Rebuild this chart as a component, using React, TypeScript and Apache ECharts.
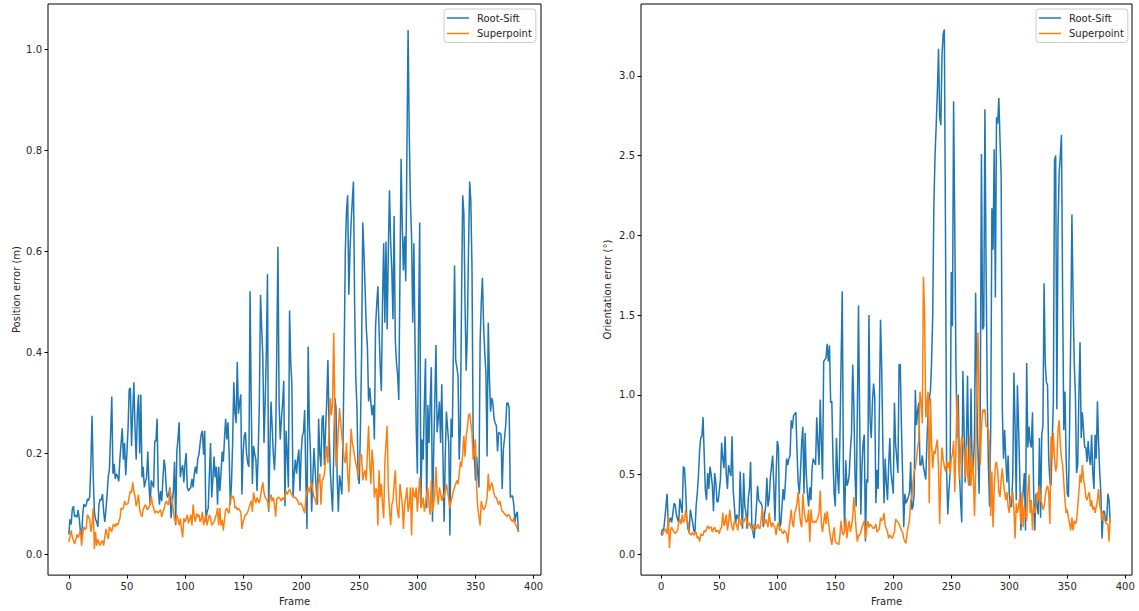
import React, { useEffect, useRef } from "react";
import * as echarts from "echarts";

// Left plot: position error (m) per frame
const RS_POS = [
  0.04,0.07,0.06,0.09,0.096,0.075,0.078,0.074,0.088,0.072,
  0.045,0.035,0.08,0.1,0.095,0.098,0.11,0.107,0.115,0.18,
  0.275,0.16,0.085,0.07,0.065,0.055,0.1,0.11,0.108,0.12,
  0.085,0.065,0.09,0.12,0.155,0.17,0.24,0.313,0.16,0.18,
  0.15,0.16,0.155,0.145,0.19,0.22,0.25,0.188,0.221,0.157,
  0.2,0.25,0.327,0.33,0.215,0.28,0.341,0.25,0.188,0.28,
  0.317,0.2,0.317,0.153,0.174,0.133,0.145,0.153,0.204,0.14,
  0.099,0.147,0.14,0.133,0.225,0.225,0.269,0.13,0.099,0.126,
  0.106,0.15,0.188,0.17,0.126,0.113,0.12,0.133,0.072,0.1,
  0.126,0.184,0.058,0.204,0.23,0.262,0.153,0.17,0.177,0.143,
  0.18,0.201,0.133,0.126,0.13,0.133,0.15,0.133,0.16,0.174,
  0.16,0.19,0.198,0.22,0.238,0.245,0.198,0.245,0.065,0.085,
  0.092,0.16,0.221,0.113,0.15,0.194,0.153,0.174,0.099,0.174,
  0.126,0.16,0.204,0.184,0.23,0.269,0.228,0.262,0.2,0.099,
  0.14,0.22,0.341,0.28,0.26,0.381,0.279,0.3,0.317,0.119,
  0.2,0.235,0.242,0.2,0.181,0.174,0.521,0.3,0.14,0.215,
  0.2,0.188,0.126,0.2,0.3,0.514,0.45,0.391,0.221,0.3,
  0.4,0.555,0.085,0.2,0.303,0.255,0.2,0.167,0.221,0.4,
  0.609,0.3,0.228,0.269,0.3,0.344,0.096,0.245,0.2,0.133,
  0.483,0.38,0.337,0.113,0.16,0.188,0.16,0.19,0.208,0.126,
  0.2,0.235,0.242,0.286,0.15,0.051,0.412,0.262,0.2,0.085,
  0.15,0.211,0.167,0.13,0.099,0.269,0.2,0.174,0.269,0.276,
  0.177,0.25,0.303,0.385,0.25,0.167,0.126,0.085,0.2,0.31,
  0.29,0.15,0.085,0.157,0.14,0.119,0.221,0.4,0.6,0.68,
  0.711,0.514,0.6,0.657,0.7,0.738,0.494,0.35,0.29,0.153,
  0.14,0.25,0.398,0.657,0.6,0.527,0.45,0.412,0.303,0.33,
  0.3,0.276,0.296,0.228,0.45,0.494,0.531,0.45,0.371,0.324,
  0.5,0.616,0.459,0.619,0.446,0.6,0.721,0.62,0.562,0.466,
  0.67,0.425,0.38,0.357,0.306,0.55,0.783,0.65,0.562,0.63,
  0.541,0.8,1.038,0.834,0.7,0.63,0.459,0.616,0.412,0.25,
  0.16,0.45,0.657,0.099,0.228,0.188,0.3,0.388,0.092,0.296,
  0.221,0.3,0.371,0.065,0.2,0.303,0.415,0.242,0.27,0.303,
  0.221,0.337,0.2,0.065,0.194,0.283,0.25,0.221,0.038,0.269,
  0.232,0.4,0.572,0.385,0.37,0.354,0.188,0.249,0.5,0.711,
  0.677,0.5,0.364,0.439,0.6,0.738,0.7,0.568,0.235,0.2,
  0.147,0.194,0.16,0.133,0.419,0.5,0.548,0.453,0.4,0.357,
  0.194,0.459,0.35,0.283,0.31,0.3,0.269,0.26,0.255,0.204,
  0.242,0.24,0.238,0.13,0.208,0.23,0.255,0.3,0.3,0.29,
  0.113,0.116,0.116,0.099,0.065,0.08,0.085,0.045,
];

const SP_POS = [
  0.025,0.035,0.048,0.035,0.028,0.021,0.03,0.04,0.034,0.04,
  0.048,0.018,0.04,0.055,0.05,0.051,0.079,0.075,0.069,0.045,
  0.06,0.092,0.011,0.045,0.018,0.03,0.024,0.018,0.025,0.028,
  0.018,0.035,0.051,0.04,0.031,0.055,0.05,0.045,0.058,0.06,
  0.055,0.062,0.058,0.065,0.072,0.092,0.09,0.092,0.106,0.099,
  0.1,0.102,0.115,0.126,0.123,0.143,0.125,0.116,0.096,0.105,
  0.119,0.089,0.08,0.075,0.089,0.095,0.099,0.092,0.089,0.095,
  0.099,0.116,0.1,0.092,0.082,0.086,0.085,0.082,0.086,0.089,
  0.075,0.085,0.09,0.102,0.106,0.1,0.099,0.13,0.115,0.109,
  0.085,0.07,0.062,0.079,0.07,0.058,0.072,0.05,0.034,0.072,
  0.065,0.07,0.079,0.062,0.07,0.079,0.058,0.099,0.075,0.065,
  0.082,0.075,0.079,0.065,0.07,0.085,0.058,0.07,0.079,0.058,
  0.07,0.079,0.072,0.058,0.062,0.065,0.072,0.08,0.092,0.058,
  0.092,0.058,0.069,0.048,0.07,0.089,0.092,0.085,0.082,0.113,
  0.11,0.116,0.113,0.092,0.095,0.089,0.092,0.088,0.085,0.051,
  0.065,0.072,0.079,0.08,0.085,0.092,0.1,0.106,0.085,0.123,
  0.11,0.102,0.113,0.108,0.102,0.116,0.13,0.143,0.123,0.113,
  0.11,0.106,0.089,0.11,0.119,0.106,0.113,0.1,0.075,0.11,
  0.113,0.113,0.11,0.106,0.113,0.109,0.115,0.126,0.119,0.125,
  0.13,0.123,0.119,0.115,0.113,0.113,0.11,0.106,0.099,0.1,
  0.102,0.096,0.09,0.082,0.113,0.125,0.133,0.123,0.135,0.143,
  0.126,0.115,0.109,0.099,0.133,0.145,0.16,0.099,0.147,0.15,
  0.16,0.19,0.215,0.181,0.25,0.31,0.276,0.3,0.439,0.276,
  0.174,0.2,0.249,0.29,0.26,0.235,0.211,0.19,0.181,0.221,
  0.16,0.123,0.188,0.249,0.221,0.21,0.194,0.181,0.17,0.153,
  0.194,0.196,0.198,0.147,0.16,0.167,0.147,0.2,0.255,0.181,
  0.14,0.208,0.181,0.113,0.13,0.13,0.058,0.167,0.113,0.14,
  0.1,0.072,0.181,0.22,0.255,0.133,0.09,0.058,0.099,0.106,
  0.14,0.167,0.106,0.085,0.072,0.14,0.12,0.099,0.051,0.1,
  0.113,0.133,0.085,0.1,0.133,0.038,0.133,0.12,0.113,0.133,
  0.085,0.12,0.153,0.092,0.1,0.113,0.085,0.1,0.119,0.133,
  0.1,0.079,0.147,0.085,0.1,0.119,0.174,0.12,0.099,0.133,
  0.12,0.106,0.119,0.113,0.125,0.14,0.126,0.11,0.092,0.106,
  0.115,0.126,0.133,0.14,0.147,0.14,0.16,0.184,0.174,0.2,
  0.235,0.194,0.235,0.25,0.276,0.279,0.26,0.242,0.188,0.2,
  0.228,0.133,0.092,0.075,0.058,0.106,0.095,0.089,0.092,0.1,
  0.113,0.16,0.126,0.135,0.143,0.133,0.12,0.113,0.113,0.105,
  0.099,0.106,0.095,0.085,0.085,0.08,0.079,0.075,0.078,0.079,
  0.072,0.068,0.065,0.072,0.062,0.058,0.052,0.045,
];

// Right plot: orientation error (deg) per frame
const RS_ORI = [
  0.12,0.16,0.15,0.22,0.3,0.38,0.19,0.21,0.23,0.2,
  0.26,0.32,0.31,0.25,0.22,0.2,0.35,0.3,0.26,0.55,
  0.54,0.4,0.22,0.16,0.14,0.28,0.24,0.2,0.15,0.14,
  0.3,0.38,0.49,0.65,0.73,0.74,0.86,0.62,0.4,0.34,
  0.51,0.41,0.55,0.5,0.43,0.27,0.51,0.45,0.33,0.33,
  0.4,0.47,0.7,0.6,0.54,0.74,0.5,0.41,0.56,0.52,
  0.49,0.74,0.4,0.3,0.19,0.25,0.23,0.21,0.52,0.3,
  0.16,0.51,0.3,0.26,0.16,0.35,0.41,0.58,0.19,0.14,
  0.1,0.19,0.3,0.43,0.34,0.33,0.32,0.3,0.17,0.25,
  0.3,0.48,0.3,0.35,0.48,0.55,0.62,0.43,0.21,0.5,
  0.71,0.67,0.17,0.19,0.3,0.41,0.34,0.45,0.6,0.56,
  0.6,0.62,0.84,0.79,0.87,0.88,0.89,0.65,0.45,0.38,
  0.52,0.7,0.8,0.38,0.76,0.5,0.38,0.3,0.42,0.34,
  0.54,0.6,0.58,0.56,0.86,0.7,0.56,0.97,0.7,0.47,
  1.21,1.22,1.23,1.32,1.21,1.31,0.95,0.96,0.6,0.38,
  0.3,0.73,0.5,0.38,0.73,1.2,1.65,0.52,0.15,0.59,
  0.43,0.45,0.5,0.65,0.76,1.19,0.93,0.5,0.3,0.88,
  1.56,0.86,0.25,0.55,0.7,0.75,0.08,0.47,0.45,1.5,
  0.84,0.73,0.95,1.07,0.99,0.32,0.53,0.41,0.9,1.47,
  1.17,0.69,0.32,0.6,0.45,0.34,0.56,0.73,0.51,0.45,
  0.38,0.95,0.69,0.6,0.51,1.19,1.19,0.8,0.51,0.17,
  0.38,0.32,0.34,0.36,0.39,0.58,0.28,0.3,0.38,1.03,
  0.81,0.9,0.95,0.56,0.56,0.62,0.55,0.51,0.47,0.7,
  0.89,0.98,1.02,1.2,1.5,2.19,2.5,2.69,2.9,3.17,
  2.74,2.69,3.13,3.26,3.29,2.04,0.51,0.25,0.4,0.51,
  1.77,1.43,2.84,2.04,1.2,0.73,1.0,0.51,0.34,0.2,
  1.15,0.8,0.45,0.67,1.12,0.6,0.43,1.04,0.51,0.56,
  0.73,1.64,1.0,0.65,0.38,0.95,2.51,1.41,1.43,2.79,
  1.82,1.0,0.56,0.3,0.8,2.17,1.91,2.54,1.61,2.74,
  2.7,2.86,2.6,2.37,0.91,0.6,0.78,0.6,0.45,0.62,
  0.38,0.3,0.3,0.49,1.14,0.8,0.34,1.06,0.8,0.51,
  0.15,0.3,0.4,0.51,0.15,1.2,0.67,0.8,0.7,0.67,
  0.89,0.4,0.15,0.38,0.3,0.25,0.73,0.23,0.75,0.8,
  1.7,1.2,1.08,1.06,0.6,0.45,0.43,0.7,0.95,2.47,
  2.5,0.91,2.04,2.39,2.5,2.63,1.61,0.78,1.02,0.6,
  0.38,0.36,0.8,1.39,2.13,1.61,1.2,1.0,0.51,0.56,
  1.0,1.33,0.73,0.89,0.78,0.67,0.67,0.58,0.71,0.6,
  0.56,0.75,0.51,0.41,0.75,0.6,0.96,0.7,0.51,0.38,
  0.1,0.27,0.27,0.21,0.21,0.38,0.34,0.2,
];

const SP_ORI = [
  0.12,0.12,0.14,0.16,0.15,0.13,0.24,0.04,0.15,0.17,
  0.15,0.14,0.13,0.14,0.15,0.2,0.22,0.19,0.25,0.2,
  0.21,0.28,0.22,0.2,0.13,0.13,0.12,0.14,0.12,0.13,
  0.14,0.1,0.11,0.08,0.13,0.12,0.12,0.15,0.14,0.16,
  0.18,0.16,0.17,0.17,0.14,0.16,0.17,0.14,0.15,0.15,
  0.13,0.16,0.17,0.26,0.18,0.2,0.25,0.15,0.2,0.28,
  0.21,0.17,0.15,0.21,0.2,0.18,0.15,0.24,0.2,0.18,
  0.21,0.2,0.22,0.24,0.19,0.18,0.2,0.17,0.16,0.15,
  0.19,0.17,0.16,0.19,0.17,0.16,0.21,0.29,0.22,0.19,
  0.22,0.2,0.17,0.26,0.2,0.17,0.2,0.18,0.17,0.12,
  0.18,0.2,0.15,0.16,0.14,0.13,0.15,0.14,0.13,0.07,
  0.15,0.21,0.28,0.2,0.17,0.26,0.28,0.32,0.39,0.28,
  0.2,0.17,0.38,0.28,0.23,0.2,0.21,0.28,0.08,0.28,
  0.21,0.2,0.21,0.2,0.21,0.23,0.26,0.4,0.19,0.14,
  0.2,0.26,0.19,0.27,0.21,0.15,0.1,0.06,0.12,0.17,
  0.08,0.07,0.07,0.06,0.12,0.21,0.14,0.12,0.15,0.23,
  0.1,0.17,0.21,0.14,0.18,0.23,0.36,0.26,0.15,0.08,
  0.12,0.12,0.14,0.17,0.19,0.21,0.1,0.15,0.21,0.17,
  0.19,0.18,0.17,0.16,0.17,0.19,0.14,0.15,0.16,0.23,
  0.21,0.22,0.26,0.18,0.16,0.14,0.1,0.12,0.11,0.1,
  0.12,0.14,0.22,0.21,0.2,0.19,0.17,0.15,0.14,0.1,
  0.08,0.07,0.14,0.18,0.22,0.34,0.36,0.45,0.52,0.54,
  0.6,0.67,0.71,1.02,0.96,0.82,1.74,1.5,0.86,0.95,
  1.02,0.32,0.98,0.7,0.54,0.65,0.63,0.68,0.72,0.54,
  0.19,0.52,0.67,0.6,0.55,0.52,0.58,0.54,0.58,0.5,
  0.6,0.63,0.71,0.39,0.67,1.0,0.7,0.47,0.65,0.74,
  0.7,0.65,0.48,0.68,0.5,0.43,0.75,0.43,0.62,0.5,
  0.24,0.52,1.06,1.39,0.96,0.56,0.78,0.91,0.89,0.91,
  0.8,0.8,0.78,0.67,0.24,0.52,0.17,0.4,0.56,0.58,
  0.52,0.39,0.36,0.47,0.54,0.45,0.39,0.34,0.39,0.3,
  0.26,0.34,0.37,0.39,0.28,0.1,0.32,0.26,0.3,0.36,
  0.19,0.39,0.17,0.3,0.25,0.21,0.39,0.5,0.26,0.34,
  0.15,0.3,0.26,0.3,0.39,0.34,0.43,0.34,0.32,0.28,
  0.3,0.36,0.41,0.43,0.39,0.19,0.74,0.6,0.76,0.6,
  0.52,0.56,0.78,0.84,0.69,0.6,0.56,0.45,0.34,0.26,
  0.28,0.23,0.19,0.15,0.23,0.15,0.21,0.19,0.21,0.3,
  0.39,0.5,0.45,0.56,0.47,0.43,0.36,0.34,0.37,0.39,
  0.3,0.34,0.28,0.3,0.26,0.3,0.34,0.41,0.3,0.28,
  0.21,0.26,0.23,0.2,0.19,0.19,0.08,0.23,
];

const X_TICKS = [0, 50, 100, 150, 200, 250, 300, 350, 400];
const POS_TICKS = [0, 0.2, 0.4, 0.6, 0.8, 1.0];
const ORI_TICKS = [0, 0.5, 1.0, 1.5, 2.0, 2.5, 3.0];
const SERIES_NAMES = ["Root-Sift", "Superpoint"];
const X_LABEL = "Frame";
const POS_LABEL = "Position error (m)";
const ORI_LABEL = "Orientation error (°)";

const BLUE = "#1f77b4";
const ORANGE = "#ff7f0e";
const FONT = "DejaVu Sans";
const TXT = "#262626";

const toPairs = (arr: number[]) => arr.map((v, i) => [i, v]);

function xAxisCfg(gridIndex: number, min: number, max: number) {
  return {
    type: "value",
    gridIndex,
    min,
    max,
    name: X_LABEL,
    nameLocation: "middle",
    nameGap: 20,
    nameTextStyle: { color: TXT, fontSize: 10, fontFamily: FONT },
    axisLine: { show: false, onZero: false },
    axisTick: { show: true, length: 3.5, customValues: X_TICKS, lineStyle: { color: "#000", width: 1 } },
    axisLabel: { customValues: X_TICKS, margin: 6, color: TXT, fontSize: 10, fontFamily: FONT },
    splitLine: { show: false },
  };
}

function yAxisCfg(gridIndex: number, min: number, max: number, ticks: number[], name: string, gap: number) {
  return {
    type: "value",
    gridIndex,
    min,
    max,
    name,
    nameLocation: "middle",
    nameRotate: 90,
    nameGap: gap,
    nameTextStyle: { color: TXT, fontSize: 10, fontFamily: FONT },
    axisLine: { show: false, onZero: false },
    axisTick: { show: true, length: 3.5, customValues: ticks, lineStyle: { color: "#000", width: 1 } },
    axisLabel: {
      customValues: ticks,
      margin: 6,
      color: TXT,
      fontSize: 10,
      fontFamily: FONT,
      formatter: (v: number) => v.toFixed(1),
    },
    splitLine: { show: false },
  };
}

function legendCfg(left: number) {
  return {
    left,
    top: 9,
    orient: "vertical",
    data: SERIES_NAMES,
    icon: "rect",
    itemWidth: 22,
    itemHeight: 1.5,
    itemGap: 3.5,
    selectedMode: false,
    padding: [3, 4, 3, 3],
    borderColor: "#cccccc",
    borderWidth: 1,
    borderRadius: 3,
    backgroundColor: "rgba(255,255,255,0.8)",
    textStyle: { color: TXT, fontSize: 10, fontFamily: FONT, lineHeight: 12, padding: [0, 0, 0, 3] },
  };
}

function lineSeries(name: string, data: number[], color: string, idx: number) {
  return {
    type: "line",
    name,
    xAxisIndex: idx,
    yAxisIndex: idx,
    data: toPairs(data),
    showSymbol: false,
    symbol: "none",
    lineStyle: { width: 1.5, color },
    itemStyle: { color },
    emphasis: { disabled: true },
  };
}

export default function App() {
  const ref = useRef<HTMLDivElement>(null);
  useEffect(() => {
    if (!ref.current) return;
    const chart = echarts.init(ref.current, undefined, { renderer: "svg" });
    chart.setOption({
      animation: false,
      backgroundColor: "#ffffff",
      textStyle: { fontFamily: FONT },
      grid: [
        { left: 48, top: 4, width: 493, height: 573, show: true, borderColor: "#000", borderWidth: 1, backgroundColor: "transparent" },
        { left: 641, top: 4, width: 491, height: 573, show: true, borderColor: "#000", borderWidth: 1, backgroundColor: "transparent" },
      ],
      xAxis: [xAxisCfg(0, -17.9, 406.4), xAxisCfg(1, -17.5, 405.8)],
      yAxis: [
        yAxisCfg(0, -0.0404, 1.0894, POS_TICKS, POS_LABEL, 27),
        yAxisCfg(1, -0.13, 3.45, ORI_TICKS, ORI_LABEL, 29),
      ],
      legend: [legendCfg(444), legendCfg(1036)],
      series: [
        lineSeries(SERIES_NAMES[0], RS_POS, BLUE, 0),
        lineSeries(SERIES_NAMES[1], SP_POS, ORANGE, 0),
        lineSeries(SERIES_NAMES[0], RS_ORI, BLUE, 1),
        lineSeries(SERIES_NAMES[1], SP_ORI, ORANGE, 1),
      ],
    });
    return () => chart.dispose();
  }, []);
  return (
    <div
      ref={ref}
      style={{ position: "absolute", left: 0, top: 0, width: 1139, height: 611, background: "#fff" }}
    />
  );
}
